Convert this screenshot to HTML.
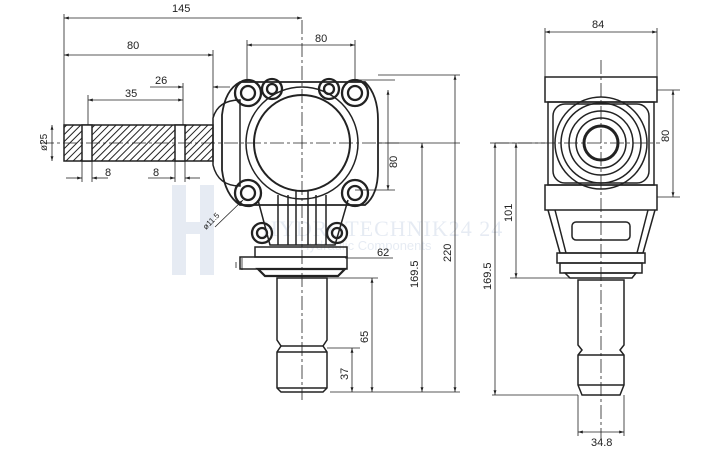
<!DOCTYPE html>
<html><head><style>body{margin:0;background:#fff}svg{display:block}text{font-family:"Liberation Sans",sans-serif;font-size:11px;fill:#222}</style></head><body>
<svg width="720" height="453" viewBox="0 0 720 453" xmlns="http://www.w3.org/2000/svg">
<defs>
<pattern id="h" width="5" height="5" patternUnits="userSpaceOnUse" patternTransform="rotate(45)"><rect width="5" height="5" fill="#fff"/><line x1="0" y1="0" x2="0" y2="5" stroke="#222" stroke-width="2"/></pattern>
<marker id="a" viewBox="0 0 10 10" refX="10" refY="5" markerWidth="6" markerHeight="6" orient="auto-start-reverse"><path d="M0,2 L10,5 L0,8z" fill="#222"/></marker>
</defs>
<!-- watermark -->
<g opacity="0.18" fill="#7a96c0">
<rect x="172" y="185" width="14" height="90"/><rect x="200" y="185" width="14" height="90"/><rect x="172" y="222" width="42" height="12"/>
<text x="262" y="236" style="font-family:'Liberation Serif',serif;font-size:22px;fill:#7a96c0;letter-spacing:1px">HYDROTECHNIK24 24</text>
<text x="300" y="250" style="font-size:13px;fill:#7a96c0">Hydraulic Components</text>
</g>
<g fill="none" stroke="#222" stroke-width="1.5">
<!-- LEFT VIEW -->
<rect x="64" y="125" width="149" height="36" fill="url(#h)"/>
<rect x="82" y="125" width="10" height="36" fill="#fff"/><rect x="175" y="125" width="10" height="36" fill="#fff"/>
<path d="M213,118 Q218,100 240,100 L240,186 Q218,186 213,165 Z"/>
<path d="M240,82 L365,82 Q378,95 378,120 L378,170 Q378,195 365,205 L240,205 Q225,195 222,170 L222,115 Q225,90 240,82 Z" stroke-width="1.8"/>
<circle cx="302" cy="143" r="56"/><circle cx="302" cy="143" r="48" stroke-width="2"/>
<g stroke-width="2.3">
<circle cx="248" cy="93" r="13"/><circle cx="248" cy="93" r="7"/>
<circle cx="355" cy="93" r="13"/><circle cx="355" cy="93" r="7"/>
<circle cx="248" cy="193" r="13"/><circle cx="248" cy="193" r="7"/>
<circle cx="355" cy="193" r="13"/><circle cx="355" cy="193" r="7"/>
<circle cx="272" cy="89" r="10"/><circle cx="272" cy="89" r="5"/>
<circle cx="329" cy="89" r="10"/><circle cx="329" cy="89" r="5"/>
<circle cx="262" cy="233" r="10"/><circle cx="262" cy="233" r="5"/>
<circle cx="337" cy="233" r="10"/><circle cx="337" cy="233" r="5"/>
</g>
<path d="M258,200 L270,245 L335,245 L348,200"/>
<path d="M278,195 V245 M288,195 V245 M296,190 V245 M308,190 V245 M316,195 V245 M326,195 V245"/>
<rect x="255" y="247" width="92" height="10"/><rect x="240" y="257" width="107" height="12"/>
<path d="M258,269 L345,269 L338,276 L265,276 Z" stroke-width="2.2"/>
<path d="M277,278 V340 L281,346 L277,352 V388 L281,392 L323,392 L327,388 V352 L323,346 L327,340 V278 Z"/>
<path d="M281,346 H323 M277,352 H327 M277,388 H327"/>
<!-- RIGHT VIEW -->
<rect x="545" y="77" width="112" height="25"/><rect x="545" y="185" width="112" height="25"/>
<rect x="548" y="102" width="106" height="83"/>
<rect x="553" y="104" width="96" height="79" rx="12"/>
<circle cx="601" cy="143" r="46"/><circle cx="601" cy="143" r="40"/><circle cx="601" cy="143" r="32"/><circle cx="601" cy="143" r="25"/>
<circle cx="601" cy="143" r="17" stroke-width="3"/>
<path d="M548,210 L560,253 L643,253 L655,210 M555,210 L566,253 M648,210 L637,253"/>
<rect x="572" y="222" width="58" height="18" rx="4"/>
<rect x="557" y="253" width="88" height="10"/><rect x="560" y="263" width="82" height="10"/>
<path d="M565,273 H636 L632,278 H570 Z"/>
<path d="M578,280 V345 L582,350 L578,355 V385 L582,395 L620,395 L624,385 V355 L620,350 L624,345 V280 Z"/>
<path d="M578,355 H624 M578,385 H624"/>
</g>
<!-- center lines -->
<g stroke="#222" stroke-width="0.8" stroke-dasharray="14,3,3,3" fill="none">
<path d="M302,20 V400 M40,143 H400 M601,60 V440 M495,143 H660"/>
</g>
<!-- dimensions -->
<g stroke="#222" stroke-width="0.8" fill="none">
<path d="M64,14 V125 M213,50 V118 M247,40 V82 M355,40 V82 M183,83 V125 M88,95 V125"/>
<path d="M64,18 H302" marker-start="url(#a)" marker-end="url(#a)"/>
<path d="M64,55 H213" marker-start="url(#a)" marker-end="url(#a)"/>
<path d="M247,45 H355" marker-start="url(#a)" marker-end="url(#a)"/>
<path d="M150,87 H183" marker-end="url(#a)"/><path d="M230,87 H213" marker-end="url(#a)"/>
<path d="M88,100 H183" marker-start="url(#a)" marker-end="url(#a)"/>
<path d="M52,125 V161" marker-start="url(#a)" marker-end="url(#a)"/>
<path d="M82,161 V182 M92,161 V182 M175,161 V182 M185,161 V182"/>
<path d="M66,178 H82" marker-end="url(#a)"/><path d="M108,178 H92" marker-end="url(#a)"/>
<path d="M148,178 H175" marker-end="url(#a)"/><path d="M200,178 H185" marker-end="url(#a)"/>
<path d="M355,80 H395 M355,190 H395"/><path d="M388,90 V190" marker-start="url(#a)" marker-end="url(#a)"/>
<path d="M330,392 H460 M378,143 H460 M378,75 H460 M327,278 H378 M327,348 H360"/>
<path d="M422,143 V392" marker-start="url(#a)" marker-end="url(#a)"/>
<path d="M455,75 V392" marker-start="url(#a)" marker-end="url(#a)"/>
<path d="M372,278 V392" marker-start="url(#a)" marker-end="url(#a)"/>
<path d="M352,348 V392" marker-start="url(#a)" marker-end="url(#a)"/>
<path d="M345,258 H393 M242,258 V270 M236,262 V268"/>
<path d="M215,227 L243,200" marker-end="url(#a)"/>
<path d="M545,28 V77 M657,28 V77"/><path d="M545,32 H657" marker-start="url(#a)" marker-end="url(#a)"/>
<path d="M657,90 H680 M657,197 H680"/><path d="M673,90 V197" marker-start="url(#a)" marker-end="url(#a)"/>
<path d="M490,143 H545 M510,278 H570 M492,395 H578"/>
<path d="M516,143 V278" marker-start="url(#a)" marker-end="url(#a)"/>
<path d="M495,143 V395" marker-start="url(#a)" marker-end="url(#a)"/>
<path d="M578,395 V436 M624,395 V436"/><path d="M578,432 H624" marker-start="url(#a)" marker-end="url(#a)"/>
</g>
<text x="172" y="12">145</text><text x="127" y="49">80</text><text x="315" y="42">80</text>
<text x="155" y="84">26</text><text x="125" y="97">35</text>
<text x="105" y="176">8</text><text x="153" y="176">8</text>
<text transform="translate(47,151) rotate(-90)" style="font-size:10px">ø25</text>
<text transform="translate(397,168) rotate(-90)">80</text>
<text transform="translate(418,288) rotate(-90)">169.5</text>
<text transform="translate(451,262) rotate(-90)">220</text>
<text transform="translate(368,343) rotate(-90)">65</text>
<text transform="translate(348,380) rotate(-90)">37</text>
<text x="377" y="256">62</text>
<text transform="translate(206,230) rotate(-45)" style="font-size:8px">ø11.5</text>
<text x="592" y="28">84</text>
<text transform="translate(669,142) rotate(-90)">80</text>
<text transform="translate(512,222) rotate(-90)">101</text>
<text transform="translate(491,290) rotate(-90)">169.5</text>
<text x="591" y="446">34.8</text>
</svg>
</body></html>
